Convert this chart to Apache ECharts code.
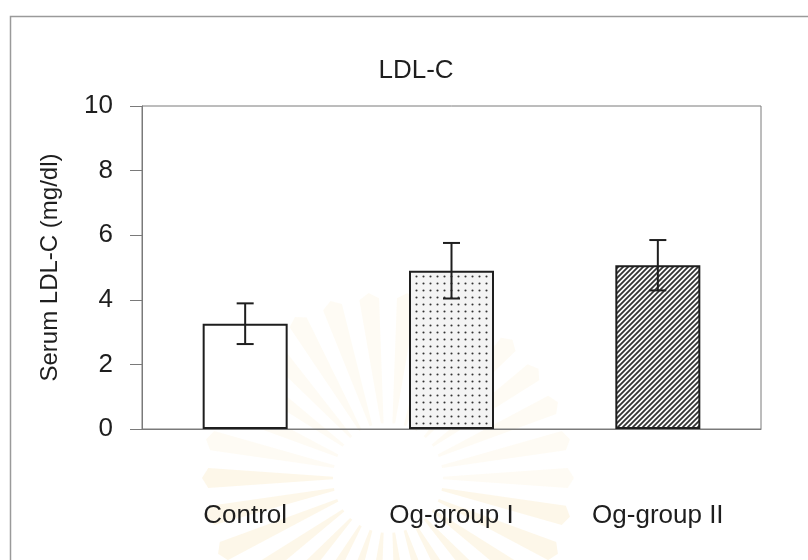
<!DOCTYPE html>
<html>
<head>
<meta charset="utf-8">
<title>LDL-C</title>
<script src="https://cdn.jsdelivr.net/npm/echarts@6/dist/echarts.min.js"></script>
<style>
  html, body { margin: 0; padding: 0; background: #ffffff; }
  #chart { width: 808px; height: 560px; }
</style>
</head>
<body>
<div id="chart"></div>
<script>
// Serum LDL-C by group: mean with error bars
const categories = ['Control', 'Og-group I', 'Og-group II'];
const means = [3.26, 4.90, 5.07];
const errors = [0.63, 0.86, 0.78];
const yTicks = [0, 2, 4, 6, 8, 10];

const FONT = '"Liberation Sans", Arial, sans-serif';
const INK = '#1e1e1e';
const AXIS = '#7a7a7a';

// Fill patterns for the treated groups
function dotPattern() {
  const c = document.createElement('canvas');
  c.width = 7; c.height = 7;
  const g = c.getContext('2d');
  g.fillStyle = '#f4f4f4';
  g.fillRect(0, 0, 7, 7);
  g.fillStyle = '#333333';
  g.beginPath();
  g.arc(3.5, 3.5, 1.05, 0, Math.PI * 2);
  g.fill();
  return c;
}
function hatchPattern() {
  const s = 5;
  const c = document.createElement('canvas');
  c.width = s; c.height = s;
  const g = c.getContext('2d');
  g.fillStyle = '#ffffff';
  g.fillRect(0, 0, s, s);
  g.strokeStyle = '#333333';
  g.lineWidth = 1.8;
  g.beginPath();
  g.moveTo(0, s); g.lineTo(s, 0);
  g.moveTo(-1, 1); g.lineTo(1, -1);
  g.moveTo(s - 1, s + 1); g.lineTo(s + 1, s - 1);
  g.stroke();
  return c;
}

const fills = [
  '#ffffff',
  { image: dotPattern(), repeat: 'repeat' },
  { image: hatchPattern(), repeat: 'repeat' }
];

// Faint sunburst seal printed behind the chart
function sealRays(cx, cy, count, r0, r1) {
  const out = [];
  for (let k = 0; k < count; k++) {
    const a = (k / count) * Math.PI * 2;
    const w0 = 0.025, w1 = 0.055;
    const pts = [
      [cx + r0 * Math.cos(a - w0), cy + r0 * Math.sin(a - w0)],
      [cx + r1 * Math.cos(a - w1), cy + r1 * Math.sin(a - w1)],
      [cx + (r1 + 6) * Math.cos(a), cy + (r1 + 6) * Math.sin(a)],
      [cx + r1 * Math.cos(a + w1), cy + r1 * Math.sin(a + w1)],
      [cx + r0 * Math.cos(a + w0), cy + r0 * Math.sin(a + w0)]
    ];
    const alpha = Math.sin(a) > 0 ? 0.16 : 0.08;
    out.push({
      type: 'polygon',
      shape: { points: pts },
      style: { fill: 'rgba(240, 205, 120, ' + alpha + ')' },
      silent: true,
      z: -20
    });
  }
  return out;
}

const chart = echarts.init(document.getElementById('chart'), null, { renderer: 'canvas' });

const option = {
  backgroundColor: '#ffffff',
  animation: false,
  textStyle: { fontFamily: FONT, color: INK },
  title: {
    text: 'LDL-C',
    left: 411,
    top: 53,
    textAlign: 'center',
    textStyle: { fontFamily: FONT, fontSize: 26, fontWeight: 'normal', color: INK }
  },
  graphic: [
    {
      type: 'rect',
      shape: { x: 10.5, y: 16.5, width: 860, height: 620 },
      style: { fill: 'none', stroke: '#9a9a9a', lineWidth: 1.5 },
      silent: true,
      z: -1
    }
  ].concat(sealRays(388, 478, 30, 55, 180)),
  grid: {
    left: 142, right: 47, top: 106, bottom: 131,
    show: true,
    borderColor: AXIS,
    borderWidth: 1,
    backgroundColor: 'transparent'
  },
  xAxis: {
    type: 'category',
    data: categories,
    axisLine: { show: true, lineStyle: { color: AXIS, width: 1 } },
    axisTick: { show: false },
    axisLabel: { fontFamily: FONT, fontSize: 26, color: INK, margin: 74 },
    splitLine: { show: false }
  },
  yAxis: {
    type: 'value',
    min: yTicks[0],
    max: yTicks[yTicks.length - 1],
    interval: yTicks[1] - yTicks[0],
    name: 'Serum LDL-C (mg/dl)',
    nameLocation: 'middle',
    nameGap: 80,
    nameTextStyle: { fontFamily: FONT, fontSize: 24, color: INK },
    axisLine: { show: true, lineStyle: { color: AXIS, width: 1 } },
    axisTick: { show: true, inside: false, length: 12, lineStyle: { color: AXIS, width: 1 } },
    axisLabel: { fontFamily: FONT, fontSize: 26, color: INK, margin: 29 },
    splitLine: { show: false }
  },
  series: [
    {
      type: 'bar',
      barWidth: 85,
      data: means.map((v, i) => ({
        value: v,
        itemStyle: { color: fills[i], borderColor: INK, borderWidth: 2 }
      })),
      z: 2
    },
    {
      type: 'custom',
      z: 5,
      data: categories.map((c, i) => [i, means[i] - errors[i], means[i] + errors[i]]),
      renderItem: function (params, api) {
        const x = api.value(0);
        const lo = api.coord([x, api.value(1)]);
        const hi = api.coord([x, api.value(2)]);
        const half = 8.5;
        const st = { stroke: INK, lineWidth: 2, fill: 'none' };
        return {
          type: 'group',
          children: [
            { type: 'line', shape: { x1: hi[0], y1: hi[1], x2: lo[0], y2: lo[1] }, style: st },
            { type: 'line', shape: { x1: hi[0] - half, y1: hi[1], x2: hi[0] + half, y2: hi[1] }, style: st },
            { type: 'line', shape: { x1: lo[0] - half, y1: lo[1], x2: lo[0] + half, y2: lo[1] }, style: st }
          ]
        };
      }
    }
  ]
};

chart.setOption(option);
</script>
</body>
</html>
